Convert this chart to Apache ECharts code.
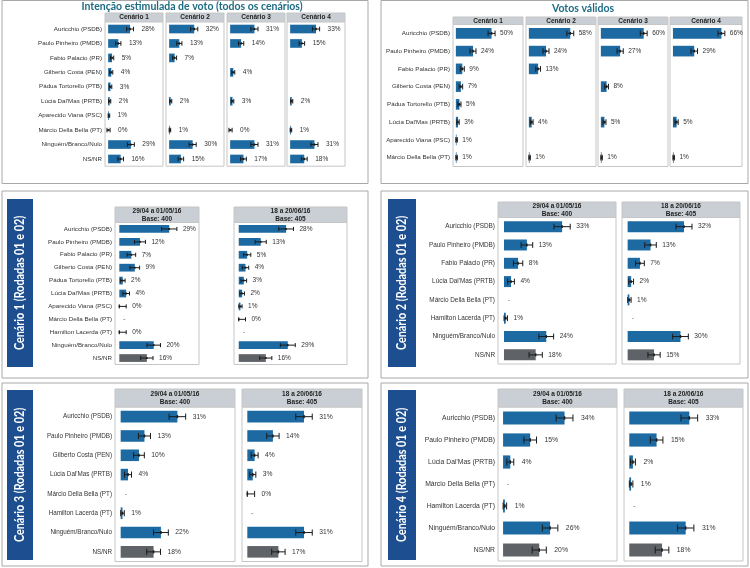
<!DOCTYPE html>
<html>
<head>
<meta charset="utf-8">
<script src="https://cdn.jsdelivr.net/npm/echarts@6/dist/echarts.min.js"></script>
<style>
  html, body { margin: 0; padding: 0; background: #fff; }
  #chart { width: 750px; height: 568px; }
</style>
</head>
<body>
<div id="chart"></div>
<script>
// ---- dados ----
const nomesTodos = ["Auricchio (PSDB)", "Paulo Pinheiro (PMDB)", "Fabio Palacio (PR)", "Gilberto Costa (PEN)",
  "Pádua Tortorello (PTB)", "Lúcia Dal'Mas (PRTB)", "Aparecido Viana (PSC)", "Márcio Della Bella (PT)",
  "Ninguém/Branco/Nulo", "NS/NR"];
const cenariosTopo = ["Cenário 1", "Cenário 2", "Cenário 3", "Cenário 4"];
const estimuladaC1 = [28, 13, 5, 4, 3, 2, 1, 0, 29, 16];
const estimuladaC2 = [32, 13, 7, null, null, 2, null, 1, 30, 15];
const estimuladaC3 = [31, 14, null, 4, null, 3, null, 0, 31, 17];
const estimuladaC4 = [33, 15, null, null, null, 2, null, 1, 31, 18];

const nomesValidos = ["Auricchio (PSDB)", "Paulo Pinheiro (PMDB)", "Fabio Palacio (PR)", "Gilberto Costa (PEN)",
  "Pádua Tortorello (PTB)", "Lúcia Dal'Mas (PRTB)", "Aparecido Viana (PSC)", "Márcio Della Bella (PT)"];
const validosC1 = [50, 24, 9, 7, 5, 3, 1, 1];
const validosC2 = [58, 24, 13, null, null, 4, null, 1];
const validosC3 = [60, 27, null, 8, null, 5, null, 1];
const validosC4 = [66, 29, null, null, null, 5, null, 1];

const rodadas = ["29/04 a 01/05/16\nBase: 400", "18 a 20/06/16\nBase: 405"];
const bases = [400, 405];

const nomesCen1 = ["Auricchio (PSDB)", "Paulo Pinheiro (PMDB)", "Fabio Palacio (PR)", "Gilberto Costa (PEN)",
  "Pádua Tortorello (PTB)", "Lúcia Dal'Mas (PRTB)", "Aparecido Viana (PSC)", "Márcio Della Bella (PT)",
  "Hamilton Lacerda (PT)", "Ninguém/Branco/Nulo", "NS/NR"];
const cen1R1 = [29, 12, 7, 9, 2, 4, 0, null, 0, 20, 16];
const cen1R2 = [28, 13, 5, 4, 3, 2, 1, 0, null, 29, 16];

const nomesCen2 = ["Auricchio (PSDB)", "Paulo Pinheiro (PMDB)", "Fabio Palacio (PR)", "Lúcia Dal'Mas (PRTB)",
  "Márcio Della Bella (PT)", "Hamilton Lacerda (PT)", "Ninguém/Branco/Nulo", "NS/NR"];
const cen2R1 = [33, 13, 8, 4, null, 1, 24, 18];
const cen2R2 = [32, 13, 7, 2, 1, null, 30, 15];

const nomesCen3 = ["Auricchio (PSDB)", "Paulo Pinheiro (PMDB)", "Gilberto Costa (PEN)", "Lúcia Dal'Mas (PRTB)",
  "Márcio Della Bella (PT)", "Hamilton Lacerda (PT)", "Ninguém/Branco/Nulo", "NS/NR"];
const cen3R1 = [31, 13, 10, 4, null, 1, 22, 18];
const cen3R2 = [31, 14, 4, 3, 0, null, 31, 17];

const nomesCen4 = ["Auricchio (PSDB)", "Paulo Pinheiro (PMDB)", "Lúcia Dal'Mas (PRTB)", "Márcio Della Bella (PT)",
  "Hamilton Lacerda (PT)", "Ninguém/Branco/Nulo", "NS/NR"];
const cen4R1 = [34, 15, 4, null, 1, 26, 20];
const cen4R2 = [33, 15, 2, 1, null, 31, 18];

// ---- estilo ----
const AZUL = "#1d6aa2";
const CINZA = "#5f6367";
const FAIXA = "#c9cfd4";
const FONTE = "Liberation Sans, Arial, sans-serif";

const grids = [], xAxes = [], yAxes = [], series = [], graphics = [];

function makeRender(base, greyLast, offset, fs, nCat, zeroLo, zeroHi) {
  return function (params, api) {
    const idx = api.value(0);
    const v = api.value(1);
    const dash = api.value(2);
    const band = api.size([0, 1])[1];
    const p0 = api.coord([0, idx]);
    const cy = p0[1];
    if (dash) {
      return { type: "text", style: { text: "-", x: p0[0] + 4, y: cy, fill: "#555",
        fontSize: fs, fontFamily: FONTE, verticalAlign: "middle" } };
    }
    // margem de erro da proporção (95%)
    let lo, hi;
    if (v === 0) { lo = zeroLo; hi = zeroHi; }
    else {
      const p = v / 100;
      const m = 196 * Math.sqrt(p * (1 - p) / base);
      lo = Math.max(0, v - m); hi = v + m;
    }
    const x1 = api.coord([v, idx])[0];
    const xl = api.coord([lo, idx])[0];
    const xh = api.coord([hi, idx])[0];
    const bh = band * 0.6;
    const cap = band * 0.32;
    const fill = (greyLast && idx === nCat - 1) ? CINZA : AZUL;
    const st = { stroke: "#1b1b1b", lineWidth: 1 };
    return {
      type: "group",
      children: [
        { type: "rect", shape: { x: p0[0], y: cy - bh / 2, width: x1 - p0[0], height: bh }, style: { fill: fill } },
        { type: "line", shape: { x1: xl, y1: cy, x2: xh, y2: cy }, style: st },
        { type: "line", shape: { x1: xl, y1: cy - cap / 2, x2: xl, y2: cy + cap / 2 }, style: st },
        { type: "line", shape: { x1: xh, y1: cy - cap / 2, x2: xh, y2: cy + cap / 2 }, style: st },
        { type: "line", shape: { x1: x1, y1: cy - cap / 4, x2: x1, y2: cy + cap / 4 }, style: { stroke: "#1b1b1b", lineWidth: 1.5 } },
        { type: "text", style: { text: v + "%", x: xh + offset, y: cy, fill: "#333",
          fontSize: fs, fontFamily: FONTE, verticalAlign: "middle" } }
      ]
    };
  };
}

function addFacet(f) {
  const gi = grids.length;
  grids.push({ left: f.x, top: f.top, width: f.w, height: f.h, show: true,
    backgroundColor: "#fff", borderColor: "#c6c6c6", borderWidth: 1 });
  xAxes.push({ type: "value", gridIndex: gi, min: f.min, max: f.max, show: false });
  yAxes.push({ type: "category", gridIndex: gi, data: f.names, inverse: true,
    axisLine: { show: false }, axisTick: { show: false }, splitLine: { show: false },
    axisLabel: { show: f.showNames, fontSize: f.fs, color: "#333", fontFamily: FONTE, margin: 3 } });
  graphics.push({ type: "rect", shape: { x: f.x, y: f.stripTop, width: f.w, height: f.top - f.stripTop },
    style: { fill: FAIXA, stroke: "#c6c6c6", lineWidth: 1 } });
  graphics.push({ type: "text", x: f.x + f.w / 2, y: (f.stripTop + f.top) / 2,
    style: { text: f.strip, fill: "#222", fontSize: f.sfs, fontWeight: "bold", fontFamily: FONTE,
      align: "center", verticalAlign: "middle", lineHeight: f.sfs + 1.5 } });
  const data = [];
  f.values.forEach(function (v, i) {
    if (v === null) { if (f.dash) data.push([i, 0, 1]); }
    else data.push([i, v, 0]);
  });
  const zero = f.dash ? [0, 4] : [-1.5, 2.5];
  series.push({ type: "custom", xAxisIndex: gi, yAxisIndex: gi, data: data,
    renderItem: makeRender(f.base, f.greyLast, f.offset, f.vfs, f.names.length, zero[0], zero[1]), silent: true });
}

function caixa(x, y, w, h) {
  graphics.push({ type: "rect", shape: { x: x, y: y, width: w, height: h },
    style: { fill: "none", stroke: "#a8a8a8", lineWidth: 1 } });
}
function rotulo(x, y, w, h, txt) {
  graphics.push({ type: "rect", shape: { x: x, y: y, width: w, height: h }, style: { fill: "#1d4f90" } });
  graphics.push({ type: "text", x: x + w / 2, y: y + h / 2, rotation: Math.PI / 2, scaleX: 0.8,
    style: { text: txt, fill: "#fff", fontSize: 13.5, fontWeight: "bold", fontFamily: "Lato, sans-serif",
      align: "center", verticalAlign: "middle" } });
}
function titulo(x, y, txt) {
  graphics.push({ type: "text", x: x, y: y,
    style: { text: txt, fill: "#1e6b84", fontSize: 10.5, fontWeight: "bold", fontFamily: "Lato, Open Sans, sans-serif",
      align: "center", verticalAlign: "middle" } });
}

// ---- painel: intenção estimulada ----
caixa(2, 0.5, 366, 183);
titulo(192, 6.5, "Intenção estimulada de voto (todos os cenários)");
[estimuladaC1, estimuladaC2, estimuladaC3, estimuladaC4].forEach(function (vals, k) {
  addFacet({ x: [105, 166, 227, 287][k], w: 58, top: 21.8, h: 144.4, stripTop: 13,
    min: -4, max: 70, names: nomesTodos, values: vals, showNames: k === 0, fs: 6.2, vfs: 6.5, sfs: 6.5,
    strip: cenariosTopo[k], base: 400, greyLast: false, offset: 8, dash: false });
});

// ---- painel: votos válidos ----
caixa(381, 0.5, 367, 183);
titulo(583, 9, "Votos válidos");
[validosC1, validosC2, validosC3, validosC4].forEach(function (vals, k) {
  addFacet({ x: [453, 526, 598, 670][k], w: k === 3 ? 72 : 70, top: 24.5, h: 142, stripTop: 17,
    min: -4, max: 94, names: nomesValidos, values: vals, showNames: k === 0, fs: 6.2, vfs: 6.5, sfs: 6.5,
    strip: cenariosTopo[k], base: 400, greyLast: false, offset: 5, dash: false });
});

// ---- painel: cenário 1 ----
caixa(2, 191, 366, 187);
rotulo(7, 199, 26, 168, "Cenário 1 (Rodadas 01 e 02)");
addFacet({ x: 115, w: 84, top: 222.5, h: 142, stripTop: 207, min: -2.5, max: 46.3, names: nomesCen1, values: cen1R1,
  showNames: true, fs: 6.2, vfs: 6.5, sfs: 6.5, strip: rodadas[0], base: bases[0], greyLast: true, offset: 6, dash: true });
addFacet({ x: 234, w: 113, top: 222.5, h: 142, stripTop: 207, min: -2.8, max: 64, names: nomesCen1, values: cen1R2,
  showNames: false, fs: 6.2, vfs: 6.5, sfs: 6.5, strip: rodadas[1], base: bases[1], greyLast: true, offset: 6, dash: true });

// ---- painel: cenário 2 ----
caixa(381, 191, 367, 187);
rotulo(388, 199, 28, 168, "Cenário 2 (Rodadas 01 e 02)");
addFacet({ x: 498, w: 118, top: 217.5, h: 146.5, stripTop: 202, min: -3.4, max: 63.6, names: nomesCen2, values: cen2R1,
  showNames: true, fs: 6.4, vfs: 6.6, sfs: 6.5, strip: rodadas[0], base: bases[0], greyLast: true, offset: 6, dash: true });
addFacet({ x: 622, w: 118, top: 217.5, h: 146.5, stripTop: 202, min: -3.2, max: 63.8, names: nomesCen2, values: cen2R2,
  showNames: false, fs: 6.4, vfs: 6.6, sfs: 6.5, strip: rodadas[1], base: bases[1], greyLast: true, offset: 6, dash: true });

// ---- painel: cenário 3 ----
caixa(2, 383, 366, 183);
rotulo(7, 390, 26, 170, "Cenário 3 (Rodadas 01 e 02)");
addFacet({ x: 115, w: 120, top: 407, h: 154.5, stripTop: 389, min: -3.1, max: 62.5, names: nomesCen3, values: cen3R1,
  showNames: true, fs: 6.3, vfs: 6.7, sfs: 6.5, strip: rodadas[0], base: bases[0], greyLast: true, offset: 7, dash: true });
addFacet({ x: 242, w: 120, top: 407, h: 154.5, stripTop: 389, min: -2.9, max: 62.7, names: nomesCen3, values: cen3R2,
  showNames: false, fs: 6.3, vfs: 6.7, sfs: 6.5, strip: rodadas[1], base: bases[1], greyLast: true, offset: 7, dash: true });

// ---- painel: cenário 4 ----
caixa(381, 383, 367, 183);
rotulo(388, 390, 28, 170, "Cenário 4 (Rodadas 01 e 02)");
addFacet({ x: 498, w: 119, top: 407, h: 154, stripTop: 389, min: -2.8, max: 63, names: nomesCen4, values: cen4R1,
  showNames: true, fs: 6.8, vfs: 6.8, sfs: 6.5, strip: rodadas[0], base: bases[0], greyLast: true, offset: 8, dash: true });
addFacet({ x: 624, w: 119, top: 407, h: 154, stripTop: 389, min: -2.9, max: 62.5, names: nomesCen4, values: cen4R2,
  showNames: false, fs: 6.8, vfs: 6.8, sfs: 6.5, strip: rodadas[1], base: bases[1], greyLast: true, offset: 8, dash: true });

const chart = echarts.init(document.getElementById("chart"), null, { renderer: "canvas" });
chart.setOption({
  animation: false,
  backgroundColor: "#fff",
  grid: grids,
  xAxis: xAxes,
  yAxis: yAxes,
  series: series,
  graphic: graphics
});
</script>
</body>
</html>
